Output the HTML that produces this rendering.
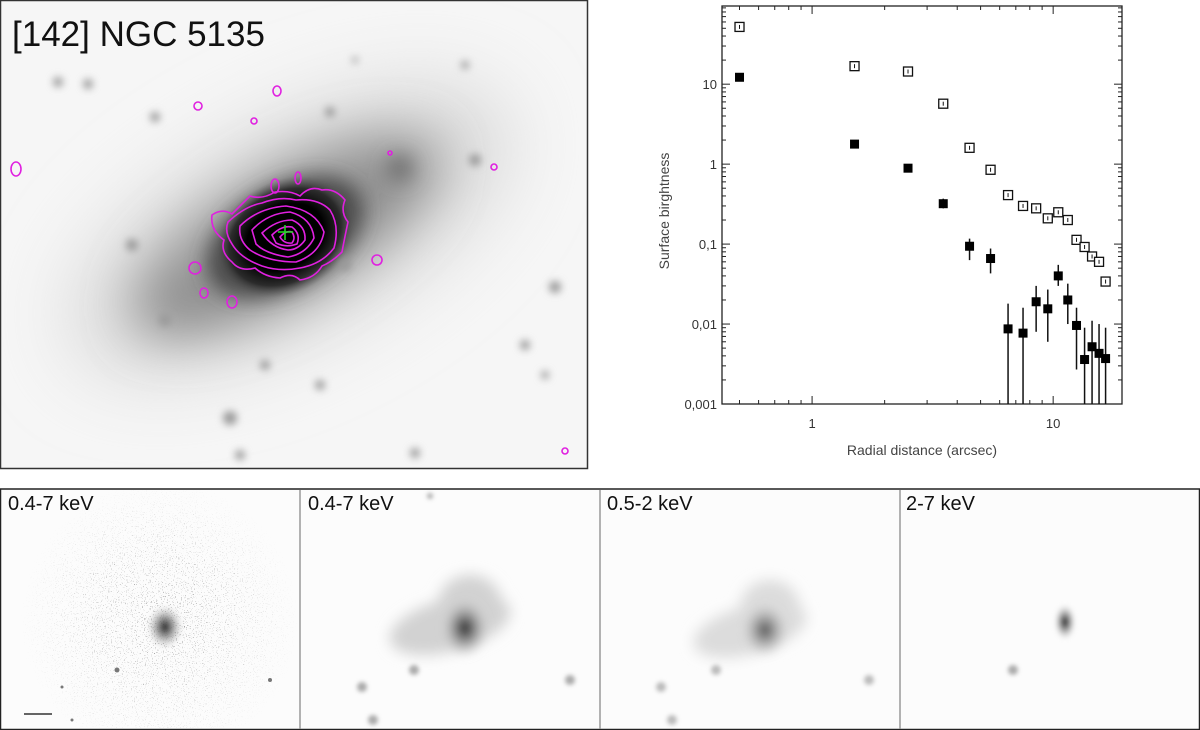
<!DOCTYPE html>
<html><head><meta charset="utf-8">
<style>
html,body{margin:0;padding:0;background:#fff;}
body{width:1200px;height:730px;position:relative;overflow:hidden;font-family:"Liberation Sans",sans-serif;}
svg{position:absolute;left:0;top:0;}
</style></head>
<body>
<svg width="1200" height="730" viewBox="0 0 1200 730">
<defs>
  <filter id="b2" x="-50%" y="-50%" width="200%" height="200%"><feGaussianBlur stdDeviation="2"/></filter>
  <filter id="b4" x="-50%" y="-50%" width="200%" height="200%"><feGaussianBlur stdDeviation="4"/></filter>
  <filter id="b8" x="-50%" y="-50%" width="200%" height="200%"><feGaussianBlur stdDeviation="7"/></filter>
  <filter id="b10" x="-50%" y="-50%" width="200%" height="200%"><feGaussianBlur stdDeviation="10"/></filter>
  <filter id="b25" x="-50%" y="-50%" width="200%" height="200%"><feGaussianBlur stdDeviation="25"/></filter>
  <filter id="b40" x="-50%" y="-50%" width="200%" height="200%"><feGaussianBlur stdDeviation="40"/></filter>
  <radialGradient id="core" cx="50%" cy="50%" r="50%">
    <stop offset="0" stop-color="#000"/><stop offset="0.55" stop-color="#000"/>
    <stop offset="0.8" stop-color="#222" stop-opacity="0.8"/><stop offset="1" stop-color="#666" stop-opacity="0"/>
  </radialGradient>
  <radialGradient id="xr" cx="50%" cy="50%" r="50%">
    <stop offset="0" stop-color="#222"/><stop offset="0.4" stop-color="#777" stop-opacity="0.8"/><stop offset="1" stop-color="#ccc" stop-opacity="0"/>
  </radialGradient>
  <clipPath id="cTop"><rect x="1" y="1" width="586" height="467"/></clipPath>
  <clipPath id="cP1"><rect x="1" y="490" width="298" height="238"/></clipPath>
  <clipPath id="cP2"><rect x="301" y="490" width="298" height="238"/></clipPath>
  <clipPath id="cP3"><rect x="601" y="490" width="298" height="238"/></clipPath>
  <clipPath id="cP4"><rect x="901" y="490" width="298" height="238"/></clipPath>
  <radialGradient id="fade" cx="50%" cy="50%" r="50%">
    <stop offset="0" stop-color="#fff" stop-opacity="1"/><stop offset="0.4" stop-color="#fff" stop-opacity="0.7"/><stop offset="1" stop-color="#fff" stop-opacity="0"/>
  </radialGradient>
  <filter id="speck" x="0" y="0" width="100%" height="100%">
    <feTurbulence type="fractalNoise" baseFrequency="0.9" numOctaves="1" seed="4" result="n"/>
    <feColorMatrix in="n" type="matrix" values="0 0 0 0 0.3  0 0 0 0 0.3  0 0 0 0 0.3  0 0 0 12 -7.6" result="d"/>
    <feComposite in="d" in2="SourceGraphic" operator="in"/>
  </filter>
</defs>

<g clip-path="url(#cTop)">
  <rect x="0" y="0" width="588" height="470" fill="#f6f6f6"/>
  <g filter="url(#b40)">
    <ellipse cx="290" cy="230" rx="240" ry="100" transform="rotate(-28 290 230)" fill="#d4d4d4"/>
  </g>
  <g filter="url(#b25)">
    <ellipse cx="285" cy="235" rx="170" ry="62" transform="rotate(-30 285 235)" fill="#9a9a9a"/>
    <path d="M150 320 Q230 295 300 250 Q380 185 430 160" stroke="#888" stroke-width="34" fill="none"/>
  </g>
  <g filter="url(#b10)">
    <ellipse cx="285" cy="237" rx="85" ry="50" transform="rotate(-30 285 237)" fill="#4a4a4a"/>
    <circle cx="400" cy="168" r="12" fill="#666"/>
  </g>
  <ellipse cx="285" cy="237" rx="74" ry="56" transform="rotate(-30 285 237)" fill="url(#core)"/>
  <g fill="#999" filter="url(#b4)">
    <circle cx="58" cy="82" r="5"/><circle cx="88" cy="84" r="5"/><circle cx="155" cy="117" r="5"/>
    <circle cx="330" cy="112" r="5"/><circle cx="132" cy="245" r="6"/><circle cx="165" cy="320" r="6"/>
    <circle cx="345" cy="265" r="6"/><circle cx="475" cy="160" r="6"/><circle cx="555" cy="287" r="6"/>
    <circle cx="525" cy="345" r="5"/><circle cx="265" cy="365" r="5"/><circle cx="230" cy="418" r="7"/>
    <circle cx="320" cy="385" r="5"/><circle cx="240" cy="455" r="5"/><circle cx="415" cy="453" r="5"/>
    <circle cx="545" cy="375" r="4"/><circle cx="465" cy="65" r="4"/><circle cx="355" cy="60" r="3"/>
  </g>
  <g fill="none" stroke="#e020e0" stroke-width="1.6">
    <path d="M212 215 Q222 208 232 214 Q240 206 250 196 Q262 200 275 192 Q290 190 300 196 Q310 185 322 190 Q335 188 345 200 Q340 212 348 222 Q345 236 342 252 Q332 262 322 266 Q315 278 300 280 Q292 272 280 278 Q265 277 255 268 Q240 272 232 262 Q220 252 224 240 Q210 230 212 215Z"/>
    <path d="M228 222 Q245 206 262 203 Q280 196 296 200 Q318 198 330 210 Q340 226 334 248 Q322 264 300 268 Q280 272 262 266 Q240 258 232 244 Q224 232 228 222Z"/>
    <path d="M240 226 Q258 208 286 206 Q316 210 324 232 Q320 254 296 262 Q268 262 250 250 Q238 240 240 226Z"/>
    <path d="M252 230 Q268 213 290 212 Q312 218 314 238 Q306 254 288 257 Q266 254 256 244Z"/>
    <path d="M262 233 Q276 220 292 220 Q306 226 305 240 Q298 250 288 250 Q272 248 262 233Z"/>
    <path d="M272 235 Q282 225 292 227 Q301 234 297 244 Q286 248 276 243Z"/>
    <path d="M280 237 Q286 230 292 232 Q296 238 292 243 Q284 244 280 237Z"/>
    <ellipse cx="275" cy="186" rx="4" ry="7"/><ellipse cx="298" cy="178" rx="3" ry="6"/>
    <ellipse cx="195" cy="268" rx="6" ry="6"/><ellipse cx="204" cy="293" rx="4" ry="5"/>
    <ellipse cx="232" cy="302" rx="5" ry="6"/><ellipse cx="377" cy="260" rx="5" ry="5"/>
    <ellipse cx="16" cy="169" rx="5" ry="7"/><ellipse cx="277" cy="91" rx="4" ry="5"/>
    <ellipse cx="198" cy="106" rx="4" ry="4"/><ellipse cx="254" cy="121" rx="3" ry="3"/>
    <ellipse cx="494" cy="167" rx="3" ry="3"/><ellipse cx="565" cy="451" rx="3" ry="3"/>
    <ellipse cx="390" cy="153" rx="2" ry="2"/>
  </g>
  <g stroke="#22dd22" stroke-width="1.5">
    <line x1="278" y1="232" x2="293" y2="232"/><line x1="285" y1="225" x2="285" y2="240"/>
  </g>
  <text x="12" y="46" font-size="35" fill="#111">[142] NGC 5135</text>
</g>
<rect x="0.5" y="0.5" width="587" height="468" fill="none" stroke="#333" stroke-width="1.5"/>

<g id="chart"></g>

<rect x="0" y="489" width="1200" height="241" fill="#fcfcfc"/>
<g clip-path="url(#cP1)">
  <circle cx="160" cy="620" r="140" fill="url(#fade)" filter="url(#speck)"/>
  <ellipse cx="165" cy="625" rx="38" ry="34" fill="url(#fade)" filter="url(#speck)"/>
  <ellipse cx="165" cy="627" rx="18" ry="22" fill="url(#xr)" filter="url(#b2)"/>
  <g fill="#777"><circle cx="117" cy="670" r="2.5"/><circle cx="270" cy="680" r="2"/><circle cx="103" cy="734" r="3"/><circle cx="62" cy="687" r="1.5"/><circle cx="72" cy="720" r="1.5"/></g>
  <line x1="24" y1="714" x2="52" y2="714" stroke="#333" stroke-width="1.5"/>
  <text x="8" y="510" font-size="20" fill="#111">0.4-7 keV</text>
</g>
<g clip-path="url(#cP2)">
  <g filter="url(#b8)" fill="#d2d2d2"><ellipse cx="450" cy="625" rx="62" ry="26" transform="rotate(-15 450 625)"/><ellipse cx="470" cy="605" rx="32" ry="30"/></g>
  <ellipse cx="465" cy="628" rx="24" ry="30" fill="url(#xr)" filter="url(#b4)"/>
  <g fill="#aaa" filter="url(#b2)"><circle cx="414" cy="670" r="5"/><circle cx="362" cy="687" r="5"/><circle cx="373" cy="720" r="5"/><circle cx="570" cy="680" r="5"/><circle cx="430" cy="496" r="3"/></g>
  <text x="308" y="510" font-size="20" fill="#111">0.4-7 keV</text>
</g>
<g clip-path="url(#cP3)">
  <g filter="url(#b8)" fill="#dcdcdc"><ellipse cx="750" cy="630" rx="58" ry="24" transform="rotate(-15 750 630)"/><ellipse cx="770" cy="608" rx="30" ry="28"/></g>
  <ellipse cx="765" cy="630" rx="24" ry="28" fill="url(#xr)" filter="url(#b4)" opacity="0.75"/>
  <g fill="#bbb" filter="url(#b2)"><circle cx="716" cy="670" r="5"/><circle cx="661" cy="687" r="5"/><circle cx="672" cy="720" r="5"/><circle cx="869" cy="680" r="5"/></g>
  <text x="607" y="510" font-size="20" fill="#111">0.5-2 keV</text>
</g>
<g clip-path="url(#cP4)">
  <ellipse cx="1065" cy="622" rx="11" ry="18" fill="url(#xr)" filter="url(#b2)"/>
  <circle cx="1013" cy="670" r="5" fill="#aaa" filter="url(#b2)"/>
  <text x="906" y="510" font-size="20" fill="#111">2-7 keV</text>
</g>
<rect x="0.5" y="489" width="1199" height="240.5" fill="none" stroke="#222" stroke-width="1.5"/>
<g stroke="#999" stroke-width="1.5">
  <line x1="300" y1="490" x2="300" y2="729"/><line x1="600" y1="490" x2="600" y2="729"/><line x1="900" y1="490" x2="900" y2="729"/>
</g>
</svg>

<script>
const radii = [0.5,1.5,2.5,3.5,4.5,5.5,6.5,7.5,8.5,9.5,10.5,11.5,12.5,13.5,14.5,15.5,16.5];
const totalSB = [52,16.8,14.4,5.7,1.6,0.85,0.41,0.30,0.28,0.21,0.25,0.20,0.113,0.092,0.070,0.060,0.034];
const hardSB = [12.2,1.78,0.89,0.32,0.094,0.066,0.0087,0.0077,0.019,0.0155,0.040,0.020,0.0096,0.0036,0.0052,0.0043,0.0037];
const hardLo = [12.2,1.78,0.85,0.28,0.063,0.043,0.0005,0.0005,0.008,0.006,0.030,0.010,0.0027,0.0005,0.0005,0.0005,0.0005];
const hardHi = [12.2,1.78,0.95,0.37,0.117,0.088,0.018,0.016,0.030,0.027,0.055,0.032,0.016,0.009,0.011,0.010,0.009];
const yTicks = [0.001,0.01,0.1,1,10];
const yTickLabels = ["0,001","0,01","0,1","1","10"];
const xTicks = [1,10];
const xTickLabels = ["1","10"];

const NS='http://www.w3.org/2000/svg';
const L=722,R=1122,T=6,B=404;
const xMin=0.423,xMax=19.3,yMin=0.001,yMax=95;
function sx(v){return L+(Math.log10(v)-Math.log10(xMin))/(Math.log10(xMax)-Math.log10(xMin))*(R-L);}
function sy(v){v=Math.max(v,yMin);return B-(Math.log10(v)-Math.log10(yMin))/(Math.log10(yMax)-Math.log10(yMin))*(B-T);}
const g=document.getElementById('chart');
function mk(tag,attrs,parent){const e=document.createElementNS(NS,tag);for(const k in attrs)e.setAttribute(k,attrs[k]);(parent||g).appendChild(e);return e;}

const frame=mk('rect',{x:L,y:T,width:R-L,height:B-T,fill:'none',stroke:'#222','stroke-width':1.3});



for(let d=-1;d<=1;d++){for(let m=1;m<10;m++){const v=m*Math.pow(10,d);if(v<xMin||v>xMax)continue;const x=sx(v);const len=m===1?8:4;
  mk('line',{x1:x,y1:B,x2:x,y2:B-len,stroke:'#222'});mk('line',{x1:x,y1:T,x2:x,y2:T+len,stroke:'#222'});}}
for(let d=-3;d<=1;d++){for(let m=1;m<10;m++){const v=m*Math.pow(10,d);if(v<yMin||v>yMax)continue;const y=sy(v);const len=m===1?8:4;
  mk('line',{x1:L,y1:y,x2:L+len,y2:y,stroke:'#222'});mk('line',{x1:R,y1:y,x2:R-len,y2:y,stroke:'#222'});}}
yTicks.forEach((v,i)=>{const t=mk('text',{x:L-5,y:sy(v)+5,'text-anchor':'end','font-size':13,fill:'#333'});t.textContent=yTickLabels[i];
  
  });
xTicks.forEach((v,i)=>{const t=mk('text',{x:sx(v),y:B+24,'text-anchor':'middle','font-size':13,fill:'#333'});t.textContent=xTickLabels[i];
  
  });
const xt=mk('text',{x:(L+R)/2,y:455,'text-anchor':'middle','font-size':14,fill:'#444'});xt.textContent='Radial distance (arcsec)';


const yt=mk('text',{x:0,y:0,'text-anchor':'middle','font-size':14,fill:'#444',transform:`translate(669 ${(T+B)/2+6}) rotate(-90)`});yt.textContent='Surface birghtness';



radii.forEach((r,i)=>{const x=sx(r);
  const eb=mk('line',{x1:x,y1:sy(hardLo[i]),x2:x,y2:sy(hardHi[i]),stroke:'#111','stroke-width':1.5});
  
  
  const y=sy(hardSB[i]);
  const p=mk('rect',{x:x-4.5,y:y-4.5,width:9,height:9,fill:'#000'});
  
  
  const y2=sy(totalSB[i]);
  const q=mk('rect',{x:x-4.5,y:y2-4.5,width:9,height:9,fill:'#fff',stroke:'#111','stroke-width':1.3});
  
  
  mk('line',{x1:x,y1:y2-2,x2:x,y2:y2+2,stroke:'#111'});
});
</script>
</body></html>
